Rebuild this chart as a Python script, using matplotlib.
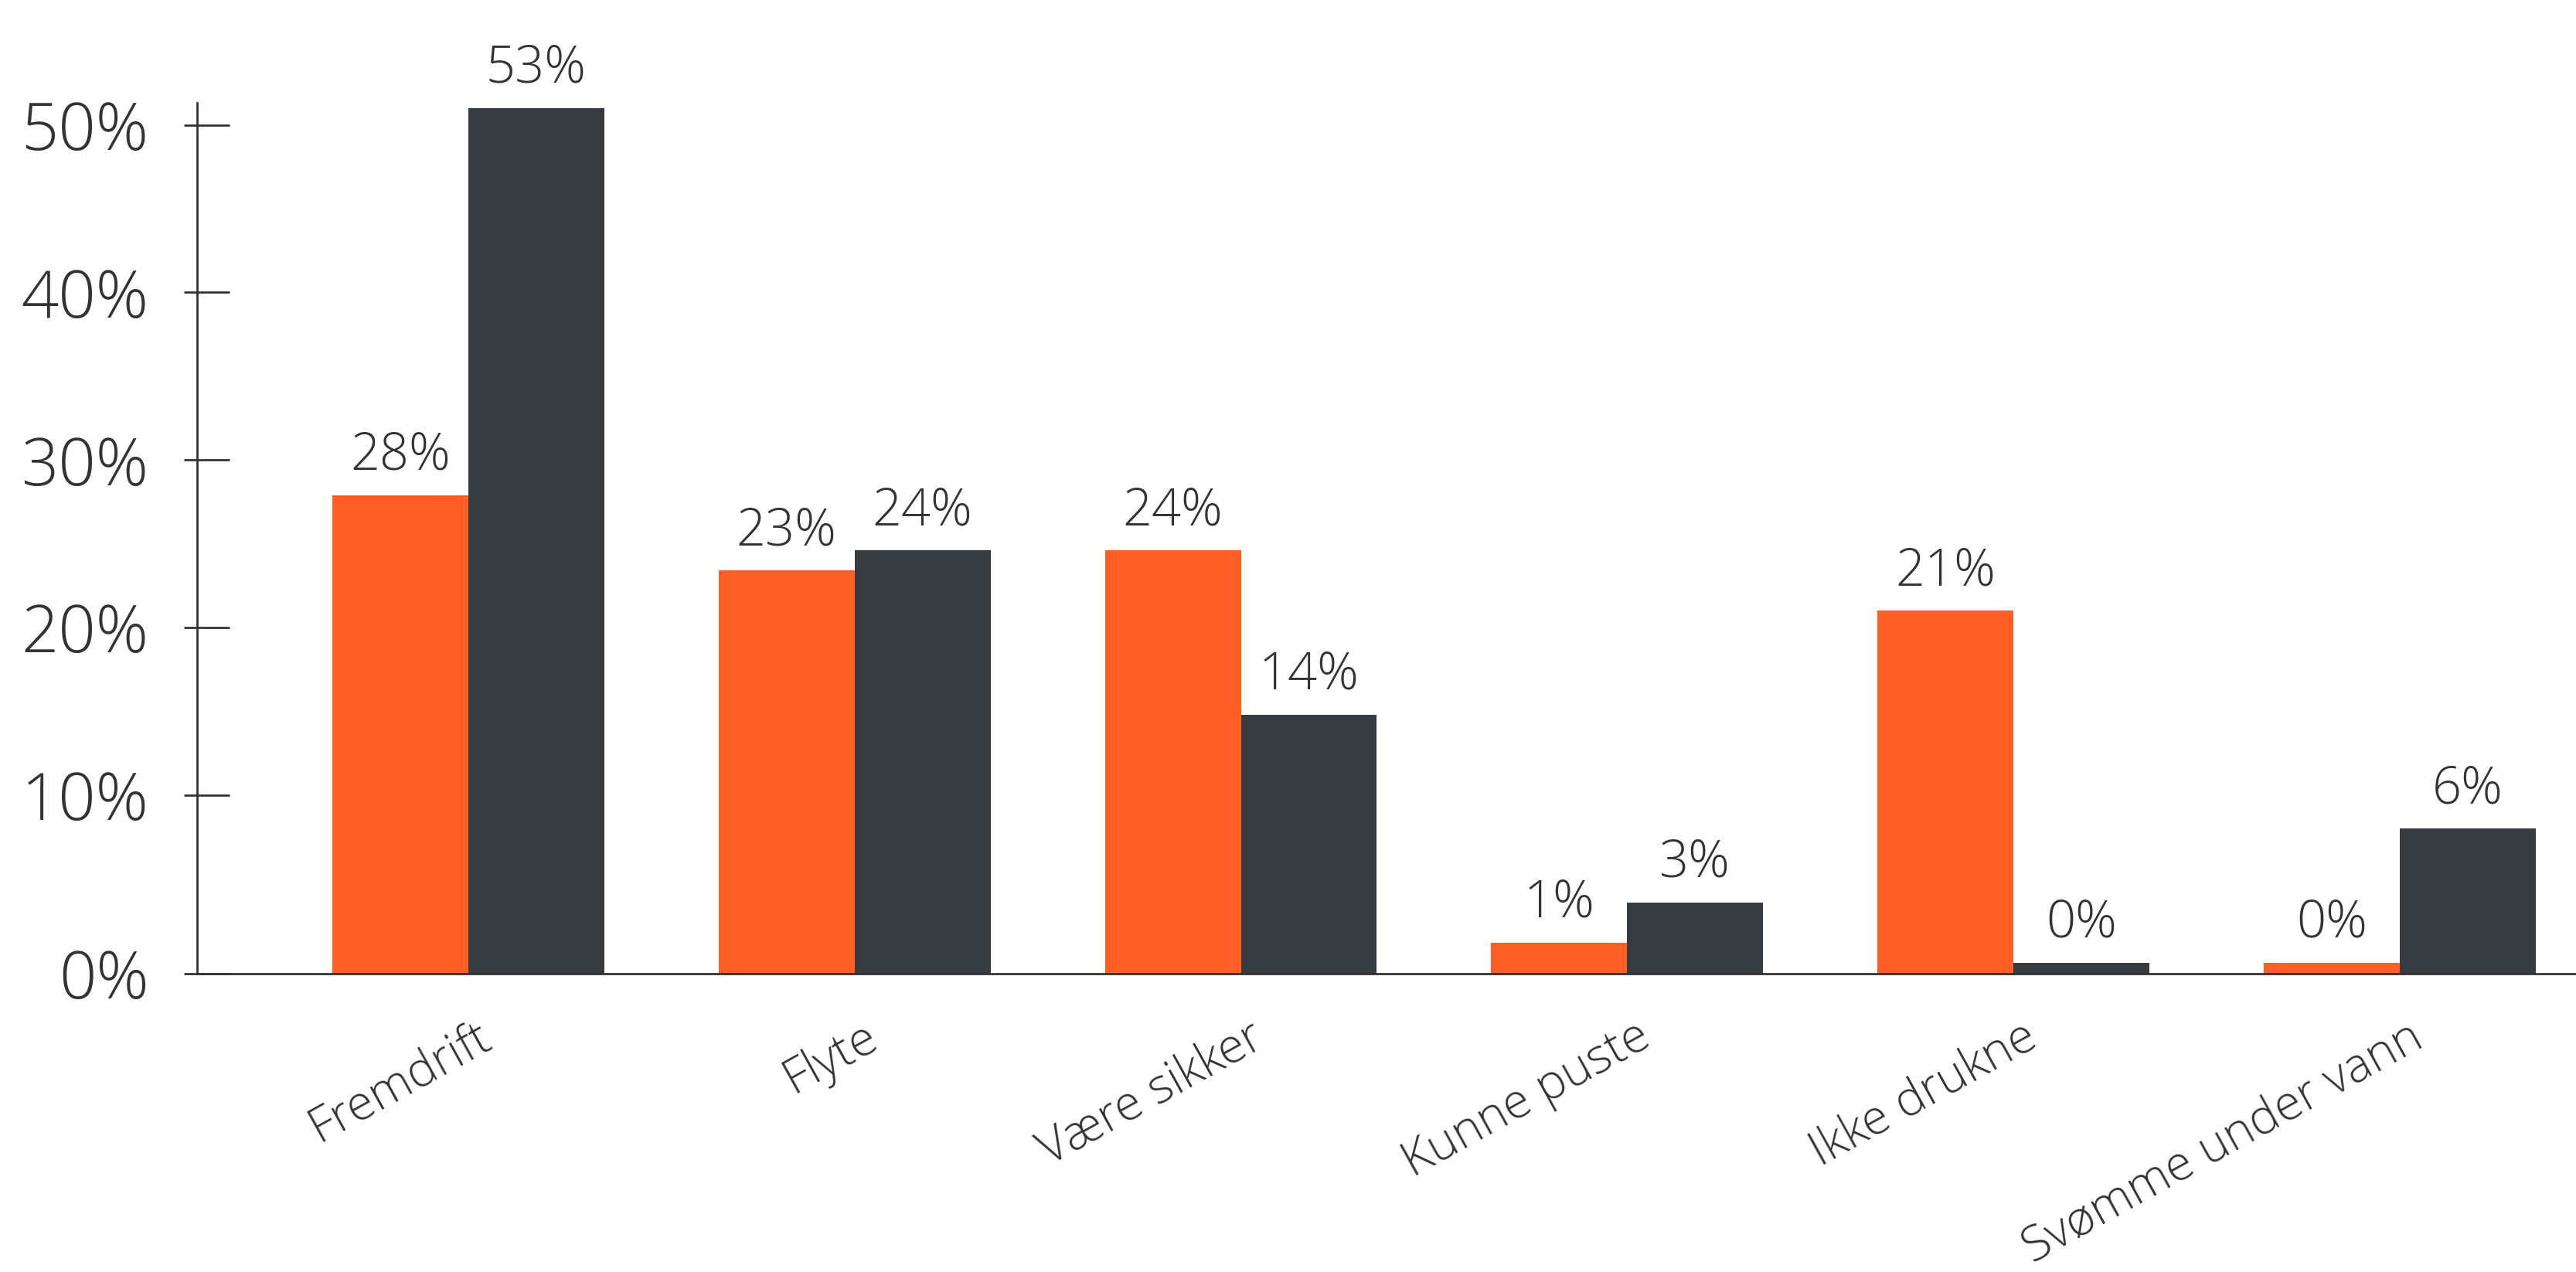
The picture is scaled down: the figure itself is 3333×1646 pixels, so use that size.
"""Grouped bar chart: svømmeferdigheter (orange vs dark series)."""
import os
import matplotlib
matplotlib.use("Agg")
import numpy as np
import matplotlib.pyplot as plt
import matplotlib.transforms as mtransforms
from matplotlib import font_manager as fm

categories = ["Fremdrift", "Flyte", "Være sikker", "Kunne puste", "Ikke drukne", "Svømme under vann"]
orange_vals = [27.9, 23.4, 24.6, 1.2, 21.0, 0.0]
dark_vals = [51.0, 24.6, 14.8, 3.6, 0.0, 8.0]
orange_labels = ["28%", "23%", "24%", "1%", "21%", "0%"]
dark_labels = ["53%", "24%", "14%", "3%", "0%", "6%"]
yticks = [0, 10, 20, 30, 40, 50]
ytick_labels = ["0%", "10%", "20%", "30%", "40%", "50%"]

ORANGE = "#FF5E25"
DARK = "#353B3E"
TEXT = "#333333"
BASE = -0.65  # axis line sits a little below the 0% level

# look for a light (not condensed) sans face; fall back to regular Open Sans
light = None
for pref in ("Open Sans", "Noto Sans", "Lato", "Roboto"):
    for f in fm.fontManager.ttflist:
        fn = os.path.basename(f.fname)
        if f.name != pref or "Italic" in fn or "Cond" in fn or "Extra" in fn or "Semi" in fn:
            continue
        if f.weight in (300, "light") or "Light" in fn:
            light = f.fname
            break
    if light:
        break
if light:
    fp = lambda size: fm.FontProperties(fname=light, size=size)
else:
    fp = lambda size: fm.FontProperties(family=["Open Sans", "DejaVu Sans"], size=size)

fig = plt.figure(figsize=(33.33, 16.46), dpi=100)
ax = fig.add_axes([0.0765, 0.2345, 0.9235, 0.6845])

x = np.arange(len(categories))
w = 0.352
b1 = ax.bar(x - w / 2, np.array(orange_vals) - BASE, w, bottom=BASE, color=ORANGE)
b2 = ax.bar(x + w / 2, np.array(dark_vals) - BASE, w, bottom=BASE, color=DARK)

for bars, vals, labels in ((b1, orange_vals, orange_labels), (b2, dark_vals, dark_labels)):
    for rect, v, lab in zip(bars, vals, labels):
        ax.annotate(lab, (rect.get_x() + rect.get_width() / 2, v),
                    xytext=(0, 24), textcoords="offset points",
                    ha="center", va="baseline", color=TEXT,
                    fontproperties=fp(48), annotation_clip=False)

ax.set_xlim(-0.702, 5.456)
ax.set_ylim(BASE, 51.3)

ax.spines["top"].set_visible(False)
ax.spines["right"].set_visible(False)
for s in ("left", "bottom"):
    ax.spines[s].set_linewidth(2)
    ax.spines[s].set_color(TEXT)

# the 0% tick is drawn on the axis line itself
tick_pos = [BASE] + yticks[1:]
ax.set_yticks(tick_pos)
ax.set_yticklabels(ytick_labels, color=TEXT)
for lab in ax.get_yticklabels():
    lab.set_fontproperties(fp(61))
ax.set_yticks(tick_pos, minor=True)
ax.yaxis.remove_overlapping_locs = False
ax.tick_params(axis="y", which="major", direction="in", length=30, width=2, color=TEXT, pad=45)
ax.tick_params(axis="y", which="minor", direction="out", length=12, width=2, color=TEXT)

ax.set_xticks(x)
ax.set_xticklabels(categories, color=TEXT, rotation=29, ha="right", rotation_mode="anchor")
ax.tick_params(axis="x", length=0, pad=36)
shift = mtransforms.ScaledTranslation(10 / 100, 0, fig.dpi_scale_trans)
for lab in ax.get_xticklabels():
    lab.set_fontproperties(fp(45))
    lab.set_transform(lab.get_transform() + shift)

fig.savefig("out.png", dpi=100)
